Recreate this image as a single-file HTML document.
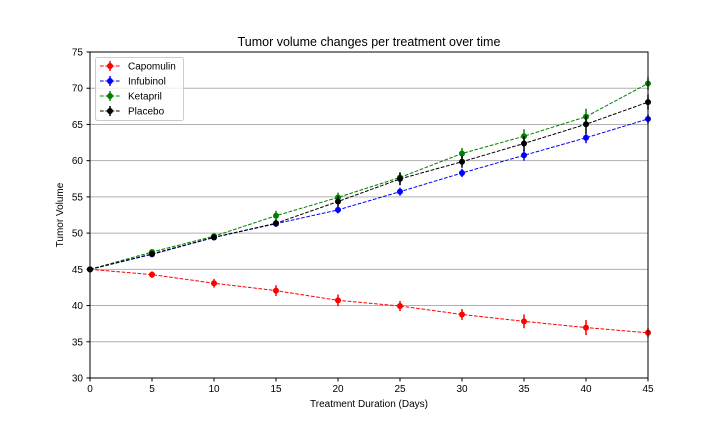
<!DOCTYPE html>
<html><head><meta charset="utf-8">
<style>
html,body{margin:0;padding:0;background:#fff;}
svg{display:block;font-family:"Liberation Sans","DejaVu Sans",sans-serif;}
</style></head>
<body>
<svg id="chart" width="720" height="432" viewBox="0 0 720 432">
<g id="grid"></g>
<g id="series"></g>
<rect x="90" y="52" width="558" height="326" fill="none" stroke="#000" stroke-width="1"/>
<g id="axes"></g>
<text x="369" y="46" text-anchor="middle" font-size="12.5">Tumor volume changes per treatment over time</text>
<text x="369" y="407" text-anchor="middle" font-size="10">Treatment Duration (Days)</text>
<text x="63" y="215" text-anchor="middle" font-size="10" transform="rotate(-90 63 215)">Tumor Volume</text>
<g id="legend"></g>
</svg>
<script>
const days = [0,5,10,15,20,25,30,35,40,45];
const names = ["Capomulin","Infubinol","Ketapril","Placebo"];
const colors = ["#ff0000","#0000ff","#008000","#000000"];
const capomulin = [45,44.27,43.08,42.06,40.72,39.94,38.77,37.82,36.96,36.24];
const infubinol = [45,47.06,49.40,51.30,53.20,55.72,58.30,60.74,63.16,65.76];
const ketapril = [45,47.39,49.58,52.40,54.92,57.68,60.99,63.37,66.07,70.66];
const placebo = [45,47.13,49.42,51.36,54.36,57.48,59.85,62.37,65.03,68.08];
const capErr = [0,0.45,0.60,0.75,0.80,0.70,0.75,0.95,1.05,0.65];
const infErr = [0,0.24,0.28,0.36,0.48,0.55,0.57,0.75,0.75,0.65];
const ketErr = [0,0.26,0.36,0.68,0.66,0.73,0.75,0.95,1.1,0.9];
const plaErr = [0,0.22,0.38,0.5,0.72,0.87,0.83,1.0,1.2,1.05];
const xTicks = [0,5,10,15,20,25,30,35,40,45];
const yTicks = [30,35,40,45,50,55,60,65,70,75];

const values = [capomulin,infubinol,ketapril,placebo];
const errs = [capErr,infErr,ketErr,plaErr];
const NS="http://www.w3.org/2000/svg";
const X = d => 90 + (d-0)/(45-0)*558;
const Y = v => 378 - (v-30)/(75-30)*326;
function mk(tag, attrs, parent){const e=document.createElementNS(NS,tag);for(const k in attrs)e.setAttribute(k,attrs[k]);parent.appendChild(e);return e;}
const grid=document.getElementById('grid'), axes=document.getElementById('axes'), ser=document.getElementById('series'), leg=document.getElementById('legend');

yTicks.forEach(t=>{
  const gl=mk('line',{x1:90,x2:648,y1:Y(t),y2:Y(t),stroke:'#b0b0b0','stroke-width':1},grid);
  
  
  const tk=mk('line',{x1:86.5,x2:90,y1:Y(t),y2:Y(t),stroke:'#000'},axes);
  
  
  const tl=mk('text',{x:83,y:Y(t)+3.5,'text-anchor':'end','font-size':10},axes);
  tl.textContent=t;
  
  
});
xTicks.forEach(t=>{
  const tk=mk('line',{x1:X(t),x2:X(t),y1:378,y2:381.5,stroke:'#000'},axes);
  
  
  const tl=mk('text',{x:X(t),y:392,'text-anchor':'middle','font-size':10},axes);
  tl.textContent=t;
  
  
});

values.forEach((vals,i)=>{
  const g=mk('g',{},ser);
  
  
  const pts=days.map((d,j)=>X(d)+','+Y(vals[j])).join(' ');
  const pl=mk('polyline',{points:pts,fill:'none',stroke:colors[i],'stroke-width':1,'stroke-dasharray':'3.7,1.6'},g);
  
  
  days.forEach((d,j)=>{
    const e=errs[i][j];
    if(e>0){
      const eb=mk('line',{x1:X(d),x2:X(d),y1:Y(vals[j]-e),y2:Y(vals[j]+e),stroke:colors[i],'stroke-width':1.5},g);
      
      
    }
    const c=mk('circle',{cx:X(d),cy:Y(vals[j]),r:3,fill:colors[i]},g);
    
    
  });
});

const box=mk('rect',{x:95.5,y:57.5,width:88,height:63,rx:2,fill:'#fff','fill-opacity':0.8,stroke:'#ccc'},leg);


names.forEach((n,i)=>{
  const y=66+i*15;
  const eg=mk('g',{},leg);
  
  
  mk('line',{x1:100,x2:120,y1:y,y2:y,stroke:colors[i],'stroke-width':1,'stroke-dasharray':'3.7,1.6'},eg);
  mk('line',{x1:110,x2:110,y1:y-5,y2:y+5,stroke:colors[i],'stroke-width':1.5},eg);
  mk('circle',{cx:110,cy:y,r:3,fill:colors[i]},eg);
  const t=mk('text',{x:128,y:y+3.5,'font-size':10},eg);
  t.textContent=n;
});
</script>
</body></html>
